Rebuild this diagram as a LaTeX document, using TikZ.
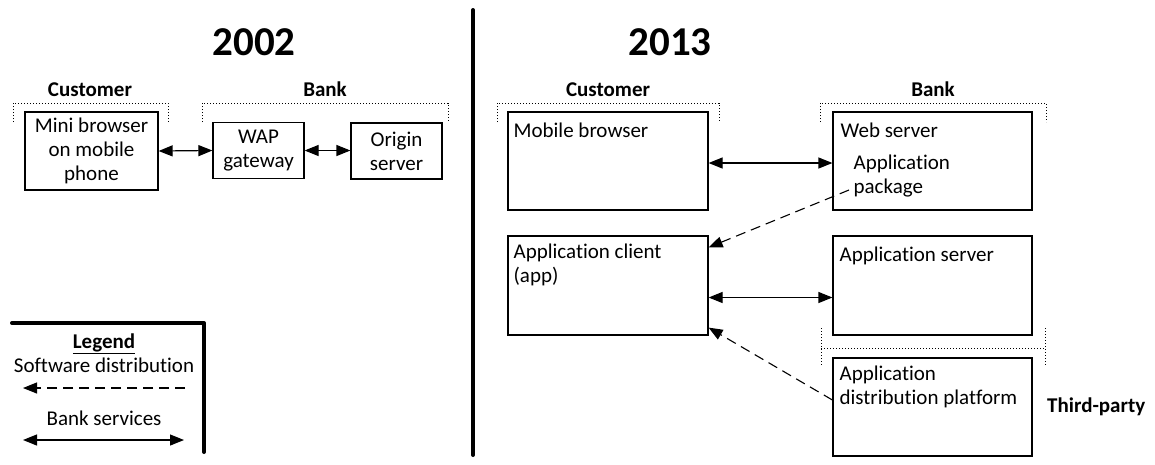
\documentclass[tikz,border=0pt]{standalone}
\usepackage{fontspec}
\setmainfont{Carlito}[Ligatures={NoCommon}]
\usetikzlibrary{arrows.meta,calc}
\begin{document}
\begin{tikzpicture}[x=1pt,y=-1pt,
  box/.style={draw, line width=1.2pt, inner sep=0pt},
  txt/.style={inner sep=0pt, font=\fontsize{21}{24}\selectfont},
  btxt/.style={inner sep=0pt, font=\fontsize{21}{24}\selectfont\bfseries},
  titletxt/.style={inner sep=0pt, font=\fontsize{41}{48}\selectfont\bfseries},
  biarrow/.style={{Triangle[length=14pt,width=11pt]}-{Triangle[length=14pt,width=11pt]}, line width=1.2pt},
  distarrow/.style={-{Triangle[length=14pt,width=11pt]}, dash pattern=on 10pt off 6pt, line width=1.1pt},
  brack/.style={line width=1pt, dash pattern=on 1.2pt off 1.8pt},
  heavy/.style={line width=4pt, line cap=round, line join=round}
]
\useasboundingbox (0,0) rectangle (1155,464);

% divider
\coordinate (divtop) at (473,10);
\coordinate (divbot) at (473,455);
\draw[heavy] (divtop) -- (divbot);

% titles
\node[titletxt, anchor=base] (t2002) at (254,55) {2002};
\node[titletxt, anchor=base] (t2013) at (670,55) {2013};

% ---------- 2002 ----------
\node[btxt, anchor=base] (custL) at (90,96) {Customer};
\node[btxt, anchor=base] (bankL) at (325,96) {Bank};
\draw[brack] (13,122) -- (13,103) -- (168,103) -- (168,122);
\draw[brack] (202,122) -- (202,103) -- (448,103) -- (448,122);

\node[box, minimum width=133pt, minimum height=78pt] (mini) at (91.5,151) {};
\node[txt, align=center] (minitxt) at (mini.center) {Mini browser\\on mobile\\phone};
\node[box, minimum width=91pt, minimum height=56pt] (wap) at (258.5,150.5) {};
\node[txt, align=center] (waptxt) at (wap.center) {WAP\\gateway};
\node[box, minimum width=91pt, minimum height=56pt] (origin) at (396.5,151) {};
\node[txt, align=center] (origintxt) at (origin.center) {Origin\\server};

\draw[biarrow] (mini.east) -- (wap.west);
\draw[biarrow] (wap.east) -- (origin.west |- wap.east);

% ---------- legend ----------
\coordinate (lg1) at (12,323);
\coordinate (lg2) at (204,323);
\coordinate (lg3) at (204,452);
\draw[heavy] (lg1) -- (lg2) -- (lg3);
\node[btxt, anchor=base] (legend) at (104,348) {\underline{Legend}};
\node[txt, anchor=base] (swd) at (104,372) {Software distribution};
\coordinate (sda) at (185,388);
\coordinate (sdb) at (23,388);
\draw[distarrow] (sda) -- (sdb);
\node[txt, anchor=base] (bsv) at (104,425) {Bank services};
\coordinate (bsa) at (23,440);
\coordinate (bsb) at (184,440);
\draw[biarrow] (bsa) -- (bsb);

% ---------- 2013 ----------
\node[btxt, anchor=base] (custR) at (608,96) {Customer};
\node[btxt, anchor=base] (bankR) at (933,96) {Bank};
\draw[brack] (497,122) -- (497,103) -- (719,103) -- (719,122);
\draw[brack] (820,122) -- (820,103) -- (1046,103) -- (1046,122);

\node[box, minimum width=200pt, minimum height=98pt] (mb) at (608,161) {};
\node[txt, anchor=base west] (mbtxt) at ($(mb.north west)+(6,26)$) {Mobile browser};
\node[box, minimum width=199pt, minimum height=98pt] (ws) at (932.5,161) {};
\node[txt, anchor=base west] (wstxt) at ($(ws.north west)+(8,26)$) {Web server};
\node[txt, anchor=north west, align=left] (pkg) at ($(ws.north west)+(21,43)$) {Application\\package};

\node[box, minimum width=200pt, minimum height=99pt] (ac) at (608,285.5) {};
\node[txt, anchor=north west, align=left] (actxt) at ($(ac.north west)+(6,8)$) {Application client\\(app)};
\node[box, minimum width=199pt, minimum height=99pt] (as) at (932.5,285.5) {};
\node[txt, anchor=base west] (astxt) at ($(as.north west)+(7,26)$) {Application server};

\node[box, minimum width=199pt, minimum height=98pt] (adp) at (932.5,407) {};
\node[txt, anchor=north west, align=left] (adptxt) at ($(adp.north west)+(7,8)$) {Application\\distribution platform};
\node[btxt, anchor=west] (third) at (1047,407) {Third-party};

\draw[brack] (821,328) -- (821,365);
\draw[brack] (1045,328) -- (1045,365);
\draw[brack] (821,348) -- (1045,348);

\draw[biarrow] ([yshift=-2pt]mb.east) -- ([yshift=-2pt]ws.west);
\draw[biarrow] ([yshift=-12pt]ac.east) -- ([yshift=-12pt]as.west);

\coordinate (pkgs) at (849,190);
\draw[distarrow] (pkgs) -- ([yshift=-12pt]ac.north east);
\draw[distarrow] ([yshift=7pt]adp.west) -- ([yshift=8pt]ac.south east);
\end{tikzpicture}
\end{document}
